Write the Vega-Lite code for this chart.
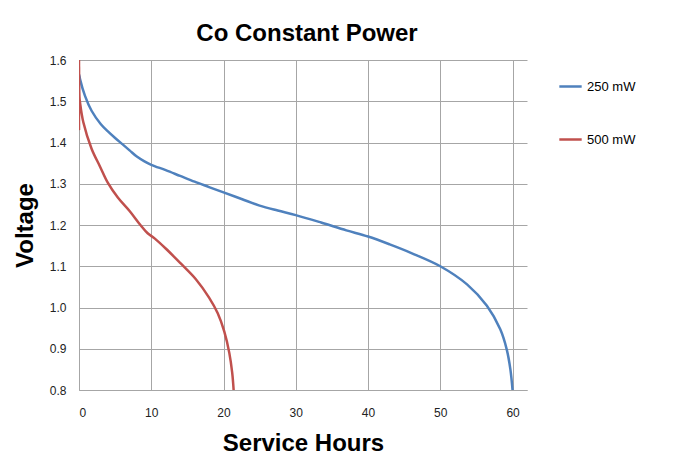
{
  "$schema": "https://vega.github.io/schema/vega-lite/v6.json",
  "width": 448,
  "height": 330,
  "autosize": {"type": "none"},
  "padding": {"left": 79, "top": 60, "right": 151, "bottom": 80},
  "background": "white",
  "title": {"text": "Co Constant Power", "font": "Liberation Sans", "fontSize": 24, "fontWeight": "bold", "color": "black", "offset": 8, "anchor": "middle", "dx": 4},
  "data": {"values": [
    {"s": "250 mW", "i": 0, "h": 0, "v": 1.47},
    {"s": "250 mW", "i": 1, "h": 0.02, "v": 1.565},
    {"s": "250 mW", "i": 2, "h": 0.15, "v": 1.553},
    {"s": "250 mW", "i": 3, "h": 0.83, "v": 1.513},
    {"s": "250 mW", "i": 4, "h": 1.74, "v": 1.477},
    {"s": "250 mW", "i": 5, "h": 3.0, "v": 1.445},
    {"s": "250 mW", "i": 6, "h": 4.0, "v": 1.427},
    {"s": "250 mW", "i": 7, "h": 5.0, "v": 1.411},
    {"s": "250 mW", "i": 8, "h": 6.0, "v": 1.396},
    {"s": "250 mW", "i": 9, "h": 7.0, "v": 1.381},
    {"s": "250 mW", "i": 10, "h": 8.0, "v": 1.366},
    {"s": "250 mW", "i": 11, "h": 9.0, "v": 1.355},
    {"s": "250 mW", "i": 12, "h": 10, "v": 1.346},
    {"s": "250 mW", "i": 13, "h": 12, "v": 1.333},
    {"s": "250 mW", "i": 14, "h": 14, "v": 1.319},
    {"s": "250 mW", "i": 15, "h": 16, "v": 1.305},
    {"s": "250 mW", "i": 16, "h": 18, "v": 1.292},
    {"s": "250 mW", "i": 17, "h": 20, "v": 1.279},
    {"s": "250 mW", "i": 18, "h": 22.5, "v": 1.263},
    {"s": "250 mW", "i": 19, "h": 25, "v": 1.247},
    {"s": "250 mW", "i": 20, "h": 27.5, "v": 1.235},
    {"s": "250 mW", "i": 21, "h": 30, "v": 1.224},
    {"s": "250 mW", "i": 22, "h": 33.5, "v": 1.206},
    {"s": "250 mW", "i": 23, "h": 37, "v": 1.187},
    {"s": "250 mW", "i": 24, "h": 40, "v": 1.172},
    {"s": "250 mW", "i": 25, "h": 43, "v": 1.153},
    {"s": "250 mW", "i": 26, "h": 46, "v": 1.132},
    {"s": "250 mW", "i": 27, "h": 50, "v": 1.1},
    {"s": "250 mW", "i": 28, "h": 53.7, "v": 1.056},
    {"s": "250 mW", "i": 29, "h": 56.45, "v": 1.004},
    {"s": "250 mW", "i": 30, "h": 58.3, "v": 0.947},
    {"s": "250 mW", "i": 31, "h": 59.2, "v": 0.898},
    {"s": "250 mW", "i": 32, "h": 59.7, "v": 0.85},
    {"s": "250 mW", "i": 33, "h": 60.0, "v": 0.8},
    {"s": "500 mW", "i": 0, "h": 0, "v": 1.43},
    {"s": "500 mW", "i": 1, "h": 0, "v": 1.6},
    {"s": "500 mW", "i": 2, "h": 0.06, "v": 1.51},
    {"s": "500 mW", "i": 3, "h": 0.14, "v": 1.497},
    {"s": "500 mW", "i": 4, "h": 0.6, "v": 1.449},
    {"s": "500 mW", "i": 5, "h": 1.74, "v": 1.385},
    {"s": "500 mW", "i": 6, "h": 2.9, "v": 1.342},
    {"s": "500 mW", "i": 7, "h": 4.0, "v": 1.302},
    {"s": "500 mW", "i": 8, "h": 5.4, "v": 1.266},
    {"s": "500 mW", "i": 9, "h": 7.0, "v": 1.234},
    {"s": "500 mW", "i": 10, "h": 8.5, "v": 1.2},
    {"s": "500 mW", "i": 11, "h": 9.5, "v": 1.18},
    {"s": "500 mW", "i": 12, "h": 10.5, "v": 1.167},
    {"s": "500 mW", "i": 13, "h": 12, "v": 1.143},
    {"s": "500 mW", "i": 14, "h": 14, "v": 1.108},
    {"s": "500 mW", "i": 15, "h": 16.2, "v": 1.068},
    {"s": "500 mW", "i": 16, "h": 18.0, "v": 1.024},
    {"s": "500 mW", "i": 17, "h": 19.2, "v": 0.986},
    {"s": "500 mW", "i": 18, "h": 20.1, "v": 0.942},
    {"s": "500 mW", "i": 19, "h": 20.8, "v": 0.89},
    {"s": "500 mW", "i": 20, "h": 21.2, "v": 0.842},
    {"s": "500 mW", "i": 21, "h": 21.4, "v": 0.8}
  ]},
  "mark": {"type": "line", "strokeWidth": 2.5, "clip": true, "interpolate": "catmull-rom"},
  "encoding": {
    "x": {"field": "h", "type": "quantitative",
      "scale": {"domain": [0, 62], "nice": false},
      "axis": {"values": [0, 10, 20, 30, 40, 50, 60], "title": "Service Hours", "titleFont": "Liberation Sans", "titleFontSize": 24, "titleFontWeight": "bold", "titleColor": "black", "titlePadding": 13,
        "labelFont": "Liberation Sans", "labelFontSize": 12, "labelColor": "#222", "labelPadding": 17, "ticks": false,
        "domainColor": "#a6a6a6", "gridColor": "#a6a6a6", "gridWidth": 1}},
    "y": {"field": "v", "type": "quantitative",
      "scale": {"domain": [0.8, 1.6], "nice": false, "zero": false},
      "axis": {"values": [0.8, 0.9, 1.0, 1.1, 1.2, 1.3, 1.4, 1.5, 1.6], "format": ".1f", "title": "Voltage", "titleFont": "Liberation Sans", "titleFontSize": 24, "titleFontWeight": "bold", "titleColor": "black", "titlePadding": 12,
        "labelFont": "Liberation Sans", "labelFontSize": 12, "labelColor": "#222", "labelPadding": 13, "ticks": false,
        "domainColor": "#a6a6a6", "gridColor": "#a6a6a6", "gridWidth": 1}},
    "color": {"field": "s", "type": "nominal",
      "scale": {"domain": ["250 mW", "500 mW"], "range": ["#4F81BD", "#C0504D"]},
      "legend": {"title": null, "orient": "none", "legendX": 479, "legendY": 14, "symbolType": "stroke", "symbolStrokeWidth": 2.5, "symbolSize": 500, "rowPadding": 33,
        "labelFont": "Liberation Sans", "labelFontSize": 13, "labelColor": "black", "labelOffset": 4}},
    "order": {"field": "i", "type": "quantitative"}
  },
  "config": {"view": {"stroke": null}}
}
